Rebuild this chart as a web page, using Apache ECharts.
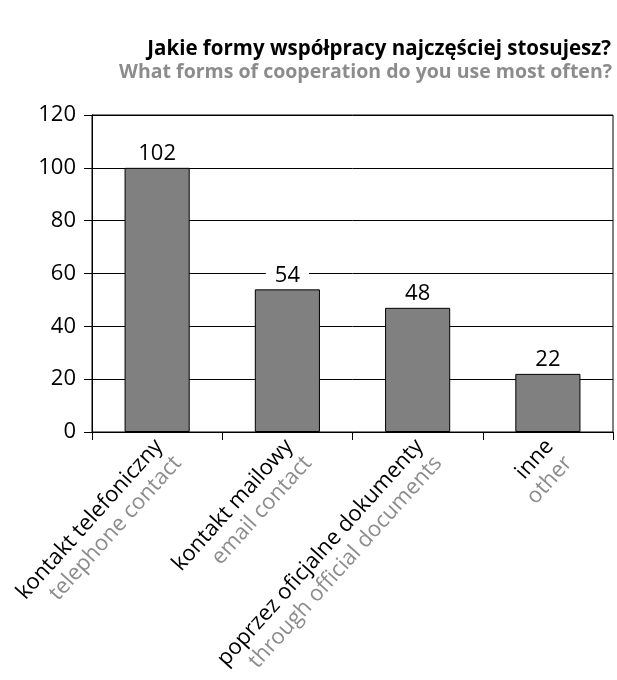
<!DOCTYPE html>
<html>
<head>
<meta charset="utf-8">
<script src="https://cdn.jsdelivr.net/npm/echarts@6/dist/echarts.min.js"></script>
<style>
html,body{margin:0;padding:0;background:#fff;}
#chart{width:617px;height:680px;}
</style>
</head>
<body>
<div id="chart"></div>
<script>
var titlePl = 'Jakie formy współpracy najczęściej stosujesz?';
var titleEn = 'What forms of cooperation do you use most often?';
var categoriesPl = ['kontakt telefoniczny', 'kontakt mailowy', 'poprzez oficjalne dokumenty', 'inne'];
var categoriesEn = ['telephone contact', 'email contact', 'through official documents', 'other'];
var barValues = [100, 54, 47, 22];
var valueLabels = ['102', '54', '48', '22'];
var yTicks = [0, 20, 40, 60, 80, 100, 120];

var FONT = 'Open Sans';
var chart = echarts.init(document.getElementById('chart'));
chart.setOption({
  backgroundColor: '#fff',
  animation: false,
  title: [{
    text: titlePl,
    right: 1,
    top: 34,
    textStyle: {fontFamily: FONT, fontSize: 20.5, fontWeight: 'bold', color: '#000'}
  }, {
    text: titleEn,
    right: 0,
    top: 57,
    textStyle: {fontFamily: FONT, fontSize: 19.5, fontWeight: 'bold', color: '#8c8c8c'}
  }],
  grid: {
    left: 92, right: 4, top: 115, bottom: 248,
    outerBoundsMode: 'none',
    containLabel: false,
    show: true, borderColor: '#000', borderWidth: 1, backgroundColor: 'transparent'
  },
  xAxis: {
    type: 'category',
    data: categoriesPl,
    axisLine: {show: true, lineStyle: {color: '#000', width: 1}},
    axisTick: {show: true, length: 8, lineStyle: {color: '#000'}},
    axisLabel: {
      interval: 0,
      rotate: 48,
      margin: 9,
      padding: [30, 0, 0, 0],
      formatter: function (v, i) {
        return '{a|' + categoriesPl[i] + '}\n{b|' + categoriesEn[i] + '}';
      },
      rich: {
        a: {fontFamily: FONT, fontSize: 22, color: '#000', lineHeight: 25},
        b: {fontFamily: FONT, fontSize: 22, color: '#8c8c8c', lineHeight: 25}
      }
    }
  },
  yAxis: {
    type: 'value',
    min: yTicks[0],
    max: yTicks[yTicks.length - 1],
    interval: yTicks[1] - yTicks[0],
    axisLine: {show: true, lineStyle: {color: '#000', width: 1}},
    axisTick: {show: true, length: 8, lineStyle: {color: '#000'}},
    splitLine: {show: true, lineStyle: {color: '#000', width: 1}},
    axisLabel: {fontFamily: FONT, fontSize: 22, color: '#000', margin: 16}
  },
  series: [{
    type: 'bar',
    data: barValues,
    barWidth: '50%',
    itemStyle: {color: '#808080', borderColor: '#000', borderWidth: 1},
    label: {
      show: true,
      position: 'top',
      distance: 3,
      formatter: function (p) { return valueLabels[p.dataIndex]; },
      fontFamily: FONT,
      fontSize: 22,
      color: '#000',
      backgroundColor: '#fff',
      padding: [0, 9, 0, 9]
    }
  }]
});
</script>
</body>
</html>
